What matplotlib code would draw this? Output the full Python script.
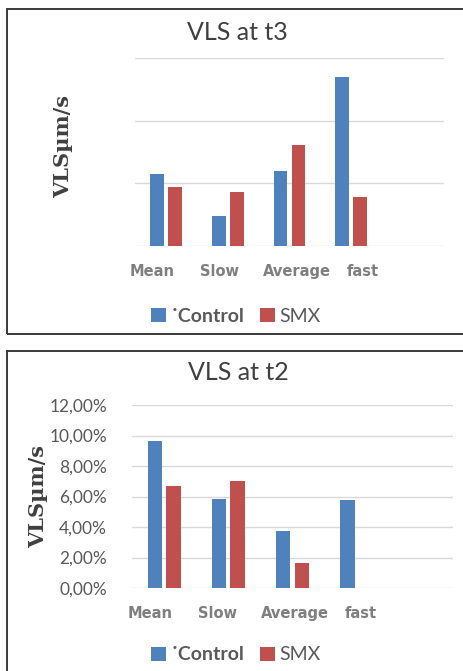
import matplotlib
matplotlib.use("Agg")
import matplotlib.pyplot as plt
from matplotlib.patches import Rectangle
from matplotlib.ticker import FuncFormatter
import numpy as np

# data
categories = ["Mean", "Slow", "Average", "fast"]
series_names = ["\u02d9Control", "SMX"]

# t3 panel has no tick labels: values in gridline units (gridlines at 0,1,2,3)
t3_control = [1.15, 0.48, 1.20, 2.69]
t3_smx = [0.94, 0.86, 1.61, 0.78]
t3_ticks = [0, 1, 2, 3]

# t2 panel, fractions shown as percent
t2_control = [0.0964, 0.0582, 0.0374, 0.0575]
t2_smx = [0.0669, 0.0700, 0.0166, 0.0]
t2_ticks = [0.0, 0.02, 0.04, 0.06, 0.08, 0.10, 0.12]

BLUE = "#4F81BD"
RED = "#C0504D"
GRID = "#D9D9D9"
TXT = "#595959"

W, H = 463, 671
fig = plt.figure(figsize=(W / 100, H / 100), dpi=100)


def px_axes(x0, y0, x1, y1):
    # pixel box (top-left origin) -> figure axes
    return fig.add_axes([x0 / W, 1 - y1 / H, (x1 - x0) / W, (y1 - y0) / H])


def frame(x0, y0, x1, y1):
    fig.patches.append(Rectangle((x0 / W, 1 - y1 / H), (x1 - x0) / W, (y1 - y0) / H,
                                 transform=fig.transFigure, fill=False,
                                 edgecolor="#3a3a3a", linewidth=1.4))


def draw_panel(ax, control, smx, ticks, label_pos, show_yticks):
    n_slots = len(categories) + 1  # Excel left an empty fifth category
    x = np.arange(len(categories))
    width = 0.225
    off = 0.145
    b1 = ax.bar(x - off, control, width, color=BLUE, label=series_names[0], zorder=3)
    b2 = ax.bar(x + off, smx, width, color=RED, label=series_names[1], zorder=3)
    ax.set_xlim(-0.5, n_slots - 0.5)
    ax.set_ylim(ticks[0], ticks[-1])
    ax.set_yticks(ticks)
    ax.yaxis.grid(True, color=GRID, linewidth=1.0, zorder=0)
    ax.set_axisbelow(True)
    for s in ax.spines.values():
        s.set_visible(False)
    ax.set_xticks(label_pos)
    ax.set_xticklabels(categories, fontfamily="DejaVu Sans", fontweight="bold",
                       fontsize=10.5, color="#7F7F7F")
    ax.tick_params(axis="x", length=0, pad=13)
    if show_yticks:
        ax.yaxis.set_major_formatter(FuncFormatter(
            lambda v, p: f"{v * 100:.2f}%".replace(".", ",")))
        ax.tick_params(axis="y", length=0, pad=18, labelsize=12.5, labelcolor=TXT)
        for t in ax.get_yticklabels():
            t.set_fontfamily("Lato")
    else:
        ax.tick_params(axis="y", length=0, labelleft=False)
    return b1, b2


def legend(handles, cx, cy):
    leg = fig.legend(handles, series_names, loc="center",
                     bbox_to_anchor=(cx / W, 1 - cy / H), ncol=2, frameon=False,
                     handlelength=0.75, handleheight=0.75, handletextpad=0.25,
                     columnspacing=0.8, prop={"family": "Lato", "size": 14})
    leg.get_texts()[0].set_fontweight("bold")
    for t in leg.get_texts():
        t.set_color(TXT)


# ---- top panel: VLS at t3
frame(7, 9, 470, 334)
ax1 = px_axes(135, 58, 444, 246)
h = draw_panel(ax1, t3_control, t3_smx, t3_ticks,
               [-0.225, 0.86, 2.12, 3.19], False)
fig.text(237 / W, 1 - 32 / H, "VLS at t3", ha="center", va="center",
         fontfamily="Lato", fontsize=18, color="#404040")
fig.text(63 / W, 1 - 147 / H, "VLS\u00b5m/s", rotation=90, ha="center", va="center",
         fontfamily="DejaVu Serif", fontweight="bold", fontsize=15, color="#404040")
legend(h, 236, 316)

# ---- bottom panel: VLS at t2
frame(7, 351, 470, 690)
ax2 = px_axes(132, 405, 453, 588)
h = draw_panel(ax2, t2_control, t2_smx, t2_ticks,
               [-0.22, 0.83, 2.03, 3.07], True)
fig.text(238 / W, 1 - 372 / H, "VLS at t2", ha="center", va="center",
         fontfamily="Lato", fontsize=18, color="#404040")
fig.text(38 / W, 1 - 496 / H, "VLS\u00b5m/s", rotation=90, ha="center", va="center",
         fontfamily="DejaVu Serif", fontweight="bold", fontsize=15, color="#404040")
legend(h, 236, 655)

fig.savefig("out.png", dpi=100)
